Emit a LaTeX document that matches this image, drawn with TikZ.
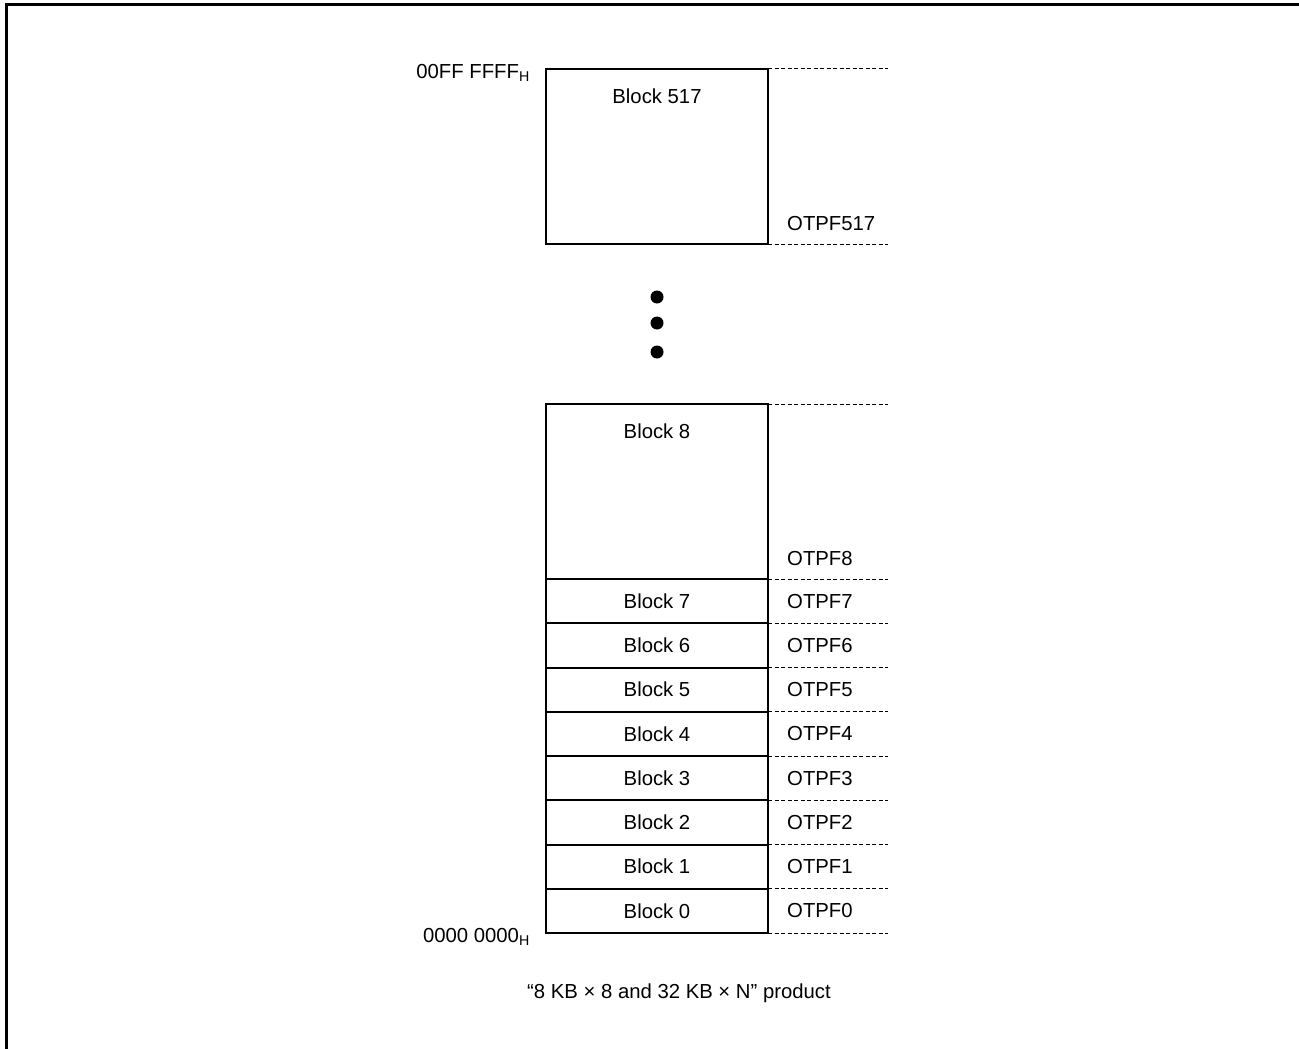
\documentclass[tikz,border=0pt]{standalone}
\usepackage{fontspec}
\setmainfont{Liberation Sans}
\usetikzlibrary{positioning}

\begin{document}
\begin{tikzpicture}[x=1pt,y=-1pt,font=\fontsize{20.3}{24}\selectfont,
  every node/.style={inner sep=0pt},
  blk/.style={draw, line width=2pt, minimum width=222pt, minimum height=44.25pt, outer sep=0pt},
  sep/.style={line width=1pt, dash pattern=on 4pt off 2.5pt}]
  \useasboundingbox (0,0) rectangle (1299,1049);
  \draw[line width=3pt] (6,1049) -- (6,5) -- (1299,5);

  % upper block
  \node (b517) [blk, minimum height=175pt] at (657,156.5) {};
  \node (t517) at ([yshift=-27pt]b517.north) {Block 517};
  \node (o517) [anchor=west] at ([xshift=19pt,yshift=20pt]b517.south east) {OTPF517};
  \node (top)  [anchor=base east] at ([xshift=-16pt,yshift=-9pt]b517.north west) {00FF FFFF\textsubscript{H}};

  % dots
  \fill (657,297) circle (6.5pt);
  \fill (657,323) circle (6.5pt);
  \fill (657,352) circle (6.5pt);

  % lower blocks
  \node (b8) [blk, minimum height=175pt] at (657,491.5) {};
  \node (t8) at ([yshift=-27pt]b8.north) {Block 8};
  \node (o8) [anchor=west] at ([xshift=19pt,yshift=20pt]b8.south east) {OTPF8};
  \node (b7) [blk, below=0pt of b8] {Block 7};
  \node (b6) [blk, below=0pt of b7] {Block 6};
  \node (b5) [blk, below=0pt of b6] {Block 5};
  \node (b4) [blk, below=0pt of b5] {Block 4};
  \node (b3) [blk, below=0pt of b4] {Block 3};
  \node (b2) [blk, below=0pt of b3] {Block 2};
  \node (b1) [blk, below=0pt of b2] {Block 1};
  \node (b0) [blk, below=0pt of b1] {Block 0};
  \node (o7) [right=19pt of b7] {OTPF7};
  \node (o6) [right=19pt of b6] {OTPF6};
  \node (o5) [right=19pt of b5] {OTPF5};
  \node (o4) [right=19pt of b4] {OTPF4};
  \node (o3) [right=19pt of b3] {OTPF3};
  \node (o2) [right=19pt of b2] {OTPF2};
  \node (o1) [right=19pt of b1] {OTPF1};
  \node (o0) [right=19pt of b0] {OTPF0};
  \node (bot) [anchor=base east] at ([xshift=-16pt,yshift=-9pt]b0.south west) {0000 0000\textsubscript{H}};

  % boundaries
  \draw[sep] (b517.north east) -- ++(120,0);
  \draw[sep] (b517.south east) -- ++(120,0);
  \draw[sep] (b8.north east) -- ++(120,0);
  \draw[sep] (b8.south east) -- ++(120,0);
  \draw[sep] (b7.south east) -- ++(120,0);
  \draw[sep] (b6.south east) -- ++(120,0);
  \draw[sep] (b5.south east) -- ++(120,0);
  \draw[sep] (b4.south east) -- ++(120,0);
  \draw[sep] (b3.south east) -- ++(120,0);
  \draw[sep] (b2.south east) -- ++(120,0);
  \draw[sep] (b1.south east) -- ++(120,0);
  \draw[sep] (b0.south east) -- ++(120,0);

  \node (cap) at (679,993) {“8 KB × 8 and 32 KB × N” product};
\end{tikzpicture}
\end{document}
